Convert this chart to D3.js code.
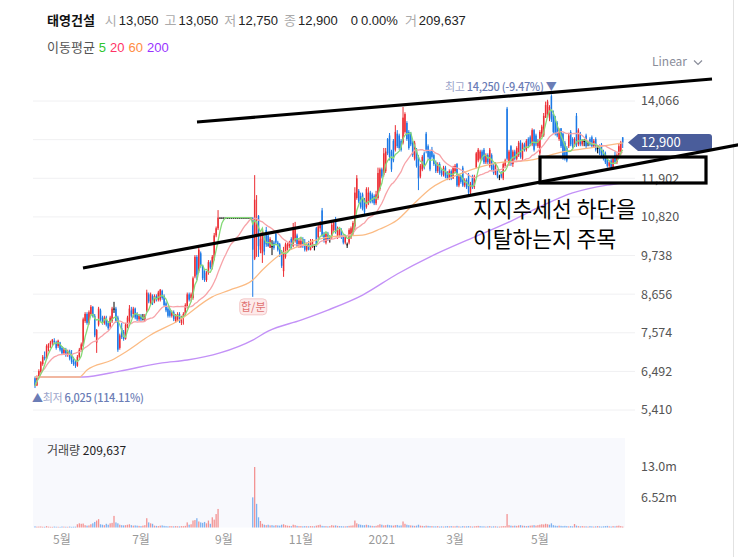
<!DOCTYPE html>
<html>
<head>
<meta charset="utf-8">
<script src="https://d3js.org/d3.v7.min.js"></script>
<style>
  body { margin: 0; background: #fff; }
  svg { font-family: "Noto Sans CJK KR", "Noto Sans", sans-serif; display: block; }
  .grid line { stroke: #f0f0f2; }
  .ytick { font-size: 12.5px; fill: #555; }
  .mtick { font-size: 12px; fill: #999; }
  .latin { font-family: "Liberation Sans", "Noto Sans CJK KR", sans-serif; }
</style>
</head>
<body>
<svg id="chart" width="738" height="557"></svg>
<script>
// daily candles, Apr 2020 - Jul 2021 (index = trading day)
const opens = [
6300,6100,6350,6480,6700,6900,6850,7150,7250,7300,
7350,7300,7200,7300,7150,7000,7100,6950,7050,6950,
6800,6750,6650,6900,7100,7200,7900,8100,7850,8100,
8300,8050,7300,7800,8200,8000,7850,8000,7850,7750,
7900,8250,8250,8000,7150,7700,7600,7400,7750,7900,
8200,8100,8250,8100,7950,8050,7950,7950,8200,8650,
8400,8600,8450,8600,8500,8500,8750,8600,8400,8250,
8200,8050,8150,7900,7950,8100,7850,8000,8100,8300,
8650,8550,8550,9150,9700,9300,9800,9450,9300,9050,
9250,9550,9400,9650,10300,10500,10800,10800,10800,10800,
10800,10800,10800,10800,10800,10800,10800,10800,10800,10800,
10800,10800,10800,10800,9650,10300,10850,9900,9800,10250,
10450,10300,9950,10000,10100,10350,10100,10050,9850,9300,
9700,9900,10000,10200,10000,10150,10300,10000,9990,10200,
10100,9900,10050,9900,10000,10000,10500,10250,10500,11000,
10350,10100,10350,10200,10250,10450,10750,10250,10300,10450,
10300,10100,10050,10100,10250,10350,10550,11350,11550,11400,
11450,11300,11100,11200,11500,11450,11400,11200,11350,11600,
12150,12000,12100,13000,13100,12650,12950,12700,13150,13100,
12950,12900,13200,13450,13200,13150,12900,12450,12700,12500,
11950,12150,12600,13150,12800,12650,12700,12550,12350,12100,
12300,12100,12000,12200,12050,11900,12100,11900,12100,12300,
11700,11950,12200,11700,11850,12000,11500,11900,11650,12200,
12400,12450,12650,12700,12350,12550,12250,12550,12250,12000,
12100,11950,12050,11900,12250,13850,12300,12800,12300,12650,
12450,12550,12900,12450,12850,12700,13000,13050,12850,13250,
13100,12800,12600,13150,13100,13600,13700,13600,14200,13700,
13600,13450,13000,13300,13150,12900,12750,12800,13200,13000,
12800,13650,12850,13150,12850,12950,13100,12900,13000,13050,
12800,13000,12750,12800,12850,12650,12600,12450,12250,12400,
12200,12550,12350,12550,12600,13050
];
const highs = [
6350,6380,6550,6780,6950,7050,7250,7280,7350,7400,
7420,7350,7380,7320,7200,7150,7150,7100,7100,7090,
6900,6800,6950,7150,7300,8000,8150,8150,8200,8350,
8320,8100,7680,8300,8250,8050,8050,8050,7900,8050,
8300,8440,8300,8050,7550,7850,7650,7850,8050,8350,
8300,8300,8280,8150,8100,8100,8100,8100,8780,8700,
8700,8650,8650,8650,8750,8800,8780,8650,8450,8300,
8250,8200,8200,8100,8150,8150,8050,8150,8400,8700,
8700,8700,9150,9750,9750,9950,9850,9470,9350,9300,
9610,9600,9750,10370,10550,11010,10800,10800,10800,10800,
10800,10800,10800,10800,10800,10800,10800,10800,10800,10800,
10800,10800,10800,10800,11990,11430,10870,10300,10450,10300,
10540,10400,10250,10170,10150,10400,10150,10090,9890,9980,
10100,10100,10150,10250,10650,10680,10350,10200,10250,10250,
10200,10100,10150,10200,10200,10050,10540,10650,10700,11070,
10400,10400,10400,10300,10650,10700,10820,10550,10500,10500,
10350,10300,10100,10500,10550,10700,11650,11990,11600,11500,
11500,11350,11650,11650,11550,11500,11450,11550,12200,12200,
12200,12750,12750,13030,13170,12700,13000,13390,13250,13150,
13000,13900,13750,13500,13250,13200,12950,12950,12750,12550,
12300,12550,12650,13200,12850,12700,12780,12600,12400,12350,
12350,12150,12250,12250,12100,12150,12150,12250,12300,12330,
12000,12000,12250,11900,11900,12050,11800,12000,12000,12640,
12750,12700,12700,12750,12600,12600,12750,12600,12300,12350,
12150,12000,12100,12350,12450,13900,12700,12830,12700,12700,
12800,12950,12970,12900,12900,13000,13050,13100,13300,13280,
13150,13000,13250,13400,13730,14050,14100,13950,14250,13800,
13650,13500,13300,13310,13170,12950,12800,13170,13250,13050,
13050,13730,13300,13200,13000,13000,13150,12950,13050,13100,
13000,13050,12800,12850,12890,12700,12650,12500,12400,12450,
12500,12650,12600,12890,12950,13050
];
const lows = [
6025,6080,6300,6450,6650,6800,6850,7050,7150,7200,
7250,7100,7150,7050,6950,6950,6900,6900,6800,6700,
6650,6590,6620,6850,7050,7180,7850,7800,7800,8050,
8000,7450,7010,7750,7900,7800,7800,7750,7650,7700,
7850,8130,7850,7040,7100,7400,7350,7380,7700,7850,
8000,8000,7950,7900,7900,7900,7950,7900,8150,8400,
8350,8350,8400,8450,8450,8450,8500,8300,8150,8000,
8000,8000,7900,7850,7900,7850,7790,7800,8050,8250,
8450,8450,8500,9100,9050,9250,9400,9050,9000,9000,
9200,9350,9350,9600,10250,10450,10800,10800,10800,10800,
10800,10800,10800,10800,10800,10800,10800,10800,10800,10800,
10800,10800,10800,8580,9610,9700,9700,9800,9530,9750,
9980,9980,9950,9750,9900,10050,9850,9700,9390,9140,
9650,9850,9950,9900,9970,10100,9970,9950,9950,9950,
9850,9850,9880,9880,9950,9880,9980,10200,10400,10260,
10100,10050,10150,10100,10200,10400,10350,10200,10250,10200,
10050,10050,9950,10050,10200,10300,10450,11300,11200,11050,
11000,10900,11050,11150,11200,11200,11150,11150,11300,11550,
11900,11950,12050,12550,12400,12080,12350,12650,12750,12700,
12650,12850,13150,12950,12700,12800,12500,12400,12200,11570,
11900,12100,12150,12600,12450,12100,12450,12250,12050,12050,
12000,11950,11950,11900,11850,11850,11850,11880,12050,11660,
11650,11750,11660,11650,11600,11430,11450,11600,11600,12190,
12350,12400,12400,12300,12300,12300,12200,12100,12000,11990,
11900,11850,11900,11850,12200,12400,12250,12250,12220,12400,
12400,12500,12450,12400,12650,12650,12750,12800,12800,12650,
12800,12750,12550,13050,13060,13590,13650,13500,13480,13150,
13100,13050,12950,12750,12420,12400,12350,12750,12800,12750,
12780,12780,12800,12800,12800,12800,12750,12800,12800,12750,
12750,12650,12600,12550,12500,12400,12300,12200,12200,12190,
12150,12300,12300,12500,12550,12750
];
const closes = [
6080,6350,6500,6750,6900,6850,7200,7250,7300,7380,
7300,7150,7350,7100,7000,7100,6950,7050,6850,6750,
6700,6650,6900,7100,7250,7950,8100,7850,8150,8300,
8050,7500,7650,8250,7950,7850,8000,7800,7700,8000,
8250,8250,7900,7100,7500,7450,7400,7800,8000,8250,
8050,8250,8000,7950,8050,7950,7950,8050,8700,8450,
8650,8400,8600,8500,8700,8780,8550,8350,8200,8050,
8050,8150,7950,8050,8100,7900,8000,8100,8350,8650,
8500,8650,9100,9700,9200,9900,9450,9100,9050,9250,
9550,9400,9700,10300,10500,10800,10800,10800,10800,10800,
10800,10800,10800,10800,10800,10800,10800,10800,10800,10800,
10800,10800,10800,9900,11300,10600,10000,10200,10400,9850,
10050,10000,10200,10000,9950,10100,9900,9750,9450,9800,
10050,10050,10100,9950,10450,10500,10000,10150,10150,10000,
9900,10050,9900,10100,10150,10000,10000,10550,10650,10300,
10150,10350,10200,10200,10600,10650,10400,10500,10450,10250,
10100,10250,10050,10450,10500,10650,11500,11900,11250,11100,
11050,10950,11600,11500,11250,11250,11200,11450,12050,12150,
11950,12600,12650,12600,12500,12150,12400,13200,12800,12750,
12700,13600,13700,13000,12750,12850,12550,12900,12250,11900,
12250,12500,12200,12700,12500,12150,12500,12300,12100,12300,
12050,12000,12200,11950,11900,12100,11900,12200,12250,11700,
11950,11800,11700,11850,11650,11500,11750,11650,11950,12600,
12700,12650,12450,12350,12550,12350,12700,12150,12050,12300,
11950,11950,11950,12300,12400,12450,12650,12300,12650,12450,
12750,12900,12500,12850,12700,12950,12800,12850,13250,12700,
12850,12950,13200,13350,13650,13950,14050,13900,13550,13200,
13150,13100,13250,12800,12500,12450,12400,13100,12850,12800,
13000,12850,13250,12850,12950,12950,12800,12900,12850,12800,
12950,12700,12750,12600,12550,12450,12350,12250,12350,12200,
12450,12350,12550,12800,12900,12900
];
// volume in thousand shares
const volumes = [
250,180,200,220,160,150,300,180,150,140,
200,160,150,130,200,180,160,150,200,140,
170,180,700,900,800,850,500,400,450,700,
900,1200,1500,1800,700,600,500,800,600,900,
1000,2500,1100,900,600,500,450,500,600,700,
500,400,450,400,350,300,400,500,2000,1100,
900,800,400,350,300,400,450,350,300,250,
300,280,250,300,260,240,300,280,350,1100,
600,700,1500,1600,2000,1300,1100,1000,1200,900,
1500,800,2200,1700,2900,4000,0,0,0,0,
0,0,0,0,0,0,0,0,0,0,
0,0,0,6500,13040,5100,2200,1400,800,600,
500,600,450,500,400,500,450,400,600,700,
500,400,350,300,600,500,350,300,300,250,
300,280,250,300,280,250,400,500,600,350,
300,300,250,300,500,400,450,350,300,280,
250,250,300,350,400,450,1500,900,700,600,
500,500,600,500,400,350,300,350,500,700,
600,450,500,600,500,450,400,500,550,400,
450,1300,800,600,500,450,400,350,400,600,
400,350,300,400,350,300,300,250,250,300,
200,250,200,250,300,250,300,250,250,350,
250,200,300,250,250,300,250,200,250,300,
350,300,250,250,200,250,300,200,250,250,
200,200,250,300,300,2900,500,400,350,400,
350,450,500,400,350,300,350,400,450,500,
400,500,600,700,650,800,700,600,900,500,
400,350,400,350,300,350,300,250,300,250,
750,400,300,250,300,250,250,200,300,250,
200,250,300,250,200,250,300,350,250,200,
300,250,350,400,300,210
];
// 60 and 200 day averages: [day index, price]
const ma60Points = [[0,6335],[23,6335],[27,6530],[40,6810],[46,7000],[60,7510],[75,7930],[92,8580],[101,8770],[113,9050],[118,9330],[127,9750],[136,9980],[144,10140],[153,10260],[162,10290],[170,10310],[179,10480],[188,10730],[196,11150],[205,11600],[222,12050],[240,12330],[257,12410],[274,12640],[292,12780],[305,12890]];
const ma200Points = [[0,6335],[25,6335],[44,6500],[66,6730],[79,6810],[96,7010],[113,7370],[121,7620],[138,7930],[152,8210],[170,8630],[188,9220],[205,9700],[227,10230],[245,10650],[262,11100],[279,11490],[297,11710],[305,11770]];

const priceTicks = [5410, 6492, 7574, 8656, 9738, 10820, 11902, 12984, 14066];
const volumeTicks = [6520, 13040];
const monthIdx = [14, 55, 98, 138, 180, 218, 262];
const monthLabels = ["5월", "7월", "9월", "11월", "2021", "3월", "5월"];
const splitIdx = 113; // 합/분 relisting day
const lastVolume = 209637;

const N = closes.length;
const svg = d3.select("#chart");
const x = d3.scaleLinear().domain([0, N - 1]).range([35, 622.7]);
const y = d3.scaleLinear().domain([5410, 14066]).range([410, 101]);
const yv = d3.scaleLinear().domain([0, 13040]).range([527.5, 467]);
const fmt = d3.format(",");
const last = closes[N - 1];

const RED = "#ec2d33", BLUE = "#1b79e6";

// right border
svg.append("line").attr("x1", 733.5).attr("x2", 733.5).attr("y1", 0).attr("y2", 557)
  .attr("stroke", "#e2e2e2");

// header
const head = svg.append("text").attr("class", "latin").attr("x", 47).attr("y", 25).attr("font-size", 13);
head.append("tspan").attr("font-weight", 700).attr("fill", "#111")
  .attr("font-family", "Noto Sans CJK KR").attr("font-size", 13).text("태영건설");
const hs = [["시", opens[N - 1]], ["고", highs[N - 1]], ["저", lows[N - 1]], ["종", last]];
hs.forEach((h, k) => {
  head.append("tspan").attr("dx", k ? 6 : 10).attr("fill", "#aaa").text(h[0]);
  head.append("tspan").attr("dx", 2).attr("fill", "#222").text(fmt(h[1]));
});
head.append("tspan").attr("dx", 13).attr("fill", "#222").text(fmt(last - closes[N - 2]));
head.append("tspan").attr("dx", 3).attr("fill", "#222").text(d3.format(".2%")(last / closes[N - 2] - 1));
head.append("tspan").attr("dx", 7).attr("fill", "#aaa").text("거");
head.append("tspan").attr("dx", 2).attr("fill", "#222").text(fmt(lastVolume));

const leg = svg.append("text").attr("class", "latin").attr("x", 47).attr("y", 52).attr("font-size", 13);
leg.append("tspan").attr("fill", "#555").attr("font-family", "Noto Sans CJK KR").text("이동평균");
[["5", "#2fc62f"], ["20", "#ff3366"], ["60", "#ff8c42"], ["200", "#9933ff"]]
  .forEach(l => leg.append("tspan").attr("dx", 4).attr("fill", l[1]).text(l[0]));

// scale selector
const lin = svg.append("text").attr("x", 652).attr("y", 66).attr("font-size", 12).attr("fill", "#8a8d9a").text("Linear");
const lx = 652 + lin.node().getComputedTextLength() + 7;
svg.append("path").attr("d", `M${lx},60.5 L${lx + 4},64.5 L${lx + 8},60.5`).attr("fill", "none").attr("stroke", "#8a8d9a").attr("stroke-width", 1.2);

// grid + price axis (label hidden where the current price tag sits)
svg.append("g").attr("class", "grid").selectAll("line").data(priceTicks).join("line")
  .attr("x1", 33).attr("x2", 635).attr("y1", d => y(d)).attr("y2", d => y(d));
svg.append("g").selectAll("text").data(priceTicks.filter(d => Math.abs(y(d) - y(last)) > 12)).join("text")
  .attr("class", "ytick").attr("x", 641).attr("y", d => y(d)).attr("dy", "0.35em").text(d => fmt(d));

// volume panel
svg.append("rect").attr("x", 33).attr("y", 438).attr("width", 592).attr("height", 89.5).attr("fill", "#f8f9fd");
const vt = svg.append("text").attr("x", 47).attr("y", 455).attr("font-size", 12);
vt.append("tspan").attr("fill", "#444").text("거래량 ");
vt.append("tspan").attr("fill", "#222").text(fmt(lastVolume));
svg.append("g").selectAll("text").data(volumeTicks).join("text")
  .attr("class", "ytick").attr("x", 641).attr("y", d => yv(d)).attr("dy", "0.35em")
  .text(d => d3.format(".3r")(d / 1000) + "m");
svg.append("g").selectAll("rect").data(volumes).join("rect")
  .attr("x", (d, i) => x(i) - 0.65).attr("width", 1.3)
  .attr("y", d => yv(d)).attr("height", d => yv(0) - yv(d))
  .attr("fill", (d, i) => closes[i] >= (i ? closes[i - 1] : opens[i]) ? "#f39393" : "#7fb2f0");

// month axis
svg.append("g").selectAll("text").data(monthIdx).join("text")
  .attr("class", "mtick").attr("x", d => x(d)).attr("y", 544).attr("text-anchor", "middle")
  .text((d, i) => monthLabels[i]);

// candles
const col = i => closes[i] > opens[i] ? RED : closes[i] < opens[i] ? BLUE : "#000";
const cg = svg.append("g");
cg.selectAll(".wick").data(closes).join("rect").attr("class", "wick")
  .attr("x", (d, i) => x(i) - 0.5).attr("width", 1)
  .attr("y", (d, i) => y(highs[i])).attr("height", (d, i) => Math.max(1, y(lows[i]) - y(highs[i])))
  .attr("fill", (d, i) => col(i));
cg.selectAll(".body").data(closes).join("rect").attr("class", "body")
  .attr("x", (d, i) => x(i) - 0.75).attr("width", 1.5)
  .attr("y", (d, i) => y(Math.max(opens[i], closes[i])))
  .attr("height", (d, i) => Math.max(1, Math.abs(y(opens[i]) - y(closes[i]))))
  .attr("fill", (d, i) => col(i));

// moving averages
const movingAvg = n => closes.map((c, i) => d3.mean(closes.slice(Math.max(0, i - n + 1), i + 1)));
const line = d3.line().x((d, i) => x(i)).y(d => y(d));
const pline = d3.line().x(d => x(d[0])).y(d => y(d[1])).curve(d3.curveMonotoneX);
svg.append("path").attr("d", pline(ma200Points)).attr("fill", "none").attr("stroke", "#c391f7").attr("stroke-width", 1.4);
svg.append("path").attr("d", pline(ma60Points)).attr("fill", "none").attr("stroke", "#fbbb84").attr("stroke-width", 1.3);
svg.append("path").attr("d", line(movingAvg(20))).attr("fill", "none").attr("stroke", "#f7a3a8").attr("stroke-width", 1.3);
svg.append("path").attr("d", line(movingAvg(5))).attr("fill", "none").attr("stroke", "#85da78").attr("stroke-width", 1.3);

// high / low markers
const hi = d3.maxIndex(highs), lo = d3.minIndex(lows);
const pct = v => (100 * (last / v - 1)).toFixed(2) + "%";
const ht = svg.append("text").attr("x", x(hi) + 5).attr("y", y(highs[hi]) - 3)
  .attr("text-anchor", "end").attr("font-size", 11).attr("letter-spacing", -0.3);
ht.append("tspan").attr("fill", "#9ca5cb").text("최고 ");
ht.append("tspan").attr("fill", "#6b7db6").attr("font-weight", 500).text(`${fmt(highs[hi])} (${pct(highs[hi])}) ▼`);
const lt = svg.append("text").attr("x", x(lo) - 3).attr("y", y(lows[lo]) + 14).attr("font-size", 11).attr("letter-spacing", -0.3);
lt.append("tspan").attr("fill", "#6b7db6").text("▲");
lt.append("tspan").attr("fill", "#9ca5cb").text("최저 ");
lt.append("tspan").attr("fill", "#6b7db6").attr("font-weight", 500).text(`${fmt(lows[lo])} (${pct(lows[lo])})`);

// split badge
const by = y(lows[splitIdx]) + 2;
svg.append("rect").attr("x", x(splitIdx) - 13).attr("y", by).attr("width", 27).attr("height", 16).attr("rx", 4)
  .attr("fill", "#fdeaea").attr("stroke", "#f4c8c8");
svg.append("text").attr("x", x(splitIdx) + 0.5).attr("y", by + 12).attr("text-anchor", "middle")
  .attr("font-size", 11).attr("fill", "#e07171").text("합/분");

// current price tag
const ty = y(last);
svg.append("path")
  .attr("d", `M628,${ty} L638,${ty - 8.5} L709,${ty - 8.5} Q712,${ty - 8.5} 712,${ty - 5.5} L712,${ty + 5.5} Q712,${ty + 8.5} 709,${ty + 8.5} L638,${ty + 8.5} Z`)
  .attr("fill", "#4a5d9b");
svg.append("text").attr("x", 641).attr("y", ty).attr("dy", "0.36em").attr("font-size", 13)
  .attr("fill", "#fff").text(fmt(last));

// hand-drawn annotation
const ann = svg.append("g").attr("stroke", "#000").attr("stroke-width", 3.2).attr("fill", "none");
ann.append("line").attr("x1", 197).attr("y1", 122).attr("x2", 712).attr("y2", 79);
ann.append("line").attr("x1", 83).attr("y1", 268).attr("x2", 740).attr("y2", 144.6);
ann.append("rect").attr("x", 540).attr("y", 157).attr("width", 166).attr("height", 26);
const note = svg.append("text").attr("font-size", 21.5).attr("fill", "#000");
note.append("tspan").attr("x", 473).attr("y", 217).text("지지추세선 하단을");
note.append("tspan").attr("x", 473).attr("y", 247).text("이탈하는지 주목");
</script>
</body>
</html>
